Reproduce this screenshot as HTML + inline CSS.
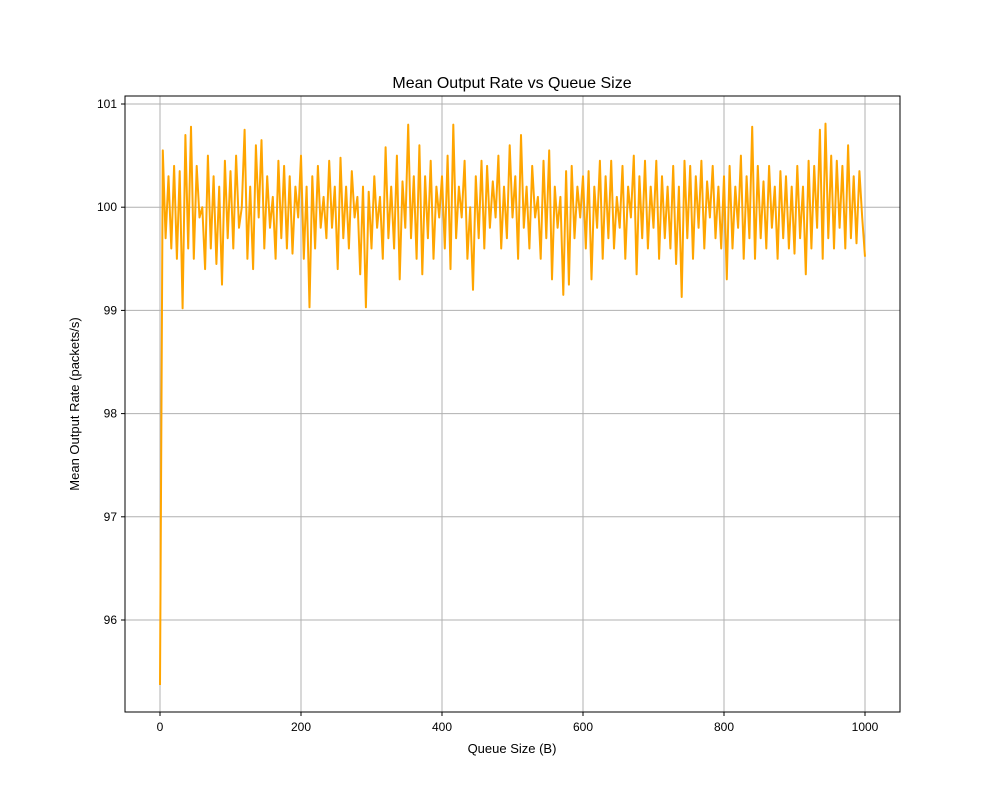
<!DOCTYPE html>
<html><head><meta charset="utf-8"><style>
body{margin:0;background:#fff;font-family:"Liberation Sans",sans-serif}
</style></head><body>
<svg id="chart" width="1000" height="800" xmlns="http://www.w3.org/2000/svg" font-family="Liberation Sans, sans-serif">
<rect width="1000" height="800" fill="#fff"/>
<g id="grid"></g>
<g id="series"></g>
<rect x="125" y="96" width="775" height="616" fill="none" stroke="#000" stroke-width="1"/>
<g id="ticks"></g>
<text x="512" y="88" text-anchor="middle" font-size="16">Mean Output Rate vs Queue Size</text>
<text x="512" y="753" text-anchor="middle" font-size="13">Queue Size (B)</text>
<text transform="translate(79,404) rotate(-90)" text-anchor="middle" font-size="13">Mean Output Rate (packets/s)</text>
</svg>
<script>
const xTicks=[0,200,400,600,800,1000];
const yTicks=[96,97,98,99,100,101];
const xStep=4;
const rates=[95.37,100.55,99.7,100.3,99.6,100.4,99.5,100.35,99.02,100.7,99.6,100.78,99.5,100.4,99.9,100.0,99.4,100.5,99.6,100.3,99.45,100.2,99.25,100.45,99.7,
100.35,99.6,100.5,99.8,100.0,100.75,99.5,100.2,99.4,100.6,99.9,100.65,99.6,100.3,99.8,100.1,99.5,100.45,99.7,100.4,99.6,100.3,99.55,100.2,99.9,
100.5,99.5,100.2,99.03,100.3,99.6,100.4,99.8,100.1,99.7,100.45,99.8,100.2,99.4,100.48,99.7,100.2,99.6,100.35,99.9,100.1,99.35,100.2,99.03,100.15,
99.6,100.3,99.8,100.1,99.5,100.58,99.7,100.2,99.6,100.5,99.3,100.25,99.8,100.8,99.7,100.3,99.5,100.6,99.35,100.3,99.7,100.45,99.5,100.2,99.9,
100.3,99.6,100.5,99.4,100.8,99.7,100.2,99.9,100.45,99.5,100.0,99.2,100.3,99.7,100.45,99.6,100.4,99.8,100.25,99.9,100.5,99.6,100.2,99.7,100.6,
99.9,100.3,99.5,100.7,99.8,100.2,99.6,100.4,99.9,100.1,99.5,100.45,99.7,100.55,99.3,100.2,99.8,100.1,99.15,100.35,99.25,100.4,99.7,100.2,99.9,
100.3,99.6,100.35,99.3,100.2,99.8,100.45,99.5,100.3,99.7,100.45,99.6,100.1,99.8,100.4,99.5,100.2,99.9,100.5,99.35,100.3,99.7,100.45,99.6,100.2,
99.8,100.45,99.5,100.3,99.7,100.2,99.6,100.4,99.45,100.2,99.13,100.45,99.7,100.4,99.5,100.3,99.8,100.45,99.6,100.25,99.9,100.4,99.7,100.2,99.6,
100.3,99.3,100.4,99.6,100.2,99.8,100.5,99.5,100.3,99.7,100.78,99.5,100.4,99.7,100.25,99.6,100.4,99.8,100.2,99.5,100.35,99.7,100.3,99.6,100.2,
99.55,100.4,99.7,100.2,99.35,100.45,99.6,100.4,99.8,100.75,99.5,100.81,99.7,100.5,99.6,100.45,99.8,100.4,99.6,100.6,99.7,100.3,99.65,100.35,99.9,
99.52];
const X=v=>160+v*0.705;
const Y=v=>104+(101-v)*103.2;
const NS='http://www.w3.org/2000/svg';
const grid=document.getElementById('grid'),ticks=document.getElementById('ticks'),series=document.getElementById('series');
function mk(tag,attrs,parent){const e=document.createElementNS(NS,tag);for(const k in attrs)e.setAttribute(k,attrs[k]);parent.appendChild(e);return e;}
xTicks.forEach(t=>{
 const g=mk('line',{x1:X(t),x2:X(t),y1:96,y2:712,stroke:'#b0b0b0','stroke-width':1},grid);
 
 
 const tk=mk('line',{x1:X(t),x2:X(t),y1:712,y2:716,stroke:'#000'},ticks);
 
 
 const l=mk('text',{x:X(t),y:731,'text-anchor':'middle','font-size':12},ticks);l.textContent=t;
 
 
});
yTicks.forEach(t=>{
 const g=mk('line',{x1:125,x2:900,y1:Y(t),y2:Y(t),stroke:'#b0b0b0','stroke-width':1},grid);
 
 
 const tk=mk('line',{x1:121,x2:125,y1:Y(t),y2:Y(t),stroke:'#000'},ticks);
 
 
 const l=mk('text',{x:117,y:Y(t)+4,'text-anchor':'end','font-size':12},ticks);l.textContent=t;
 
 
});
const pts=rates.map((v,i)=>X(i*xStep).toFixed(1)+','+Y(v).toFixed(1)).join(' ');
const pl=mk('polyline',{points:pts,fill:'none',stroke:'#ffa500','stroke-width':2,'stroke-linejoin':'round'},series);


</script>
</body></html>
